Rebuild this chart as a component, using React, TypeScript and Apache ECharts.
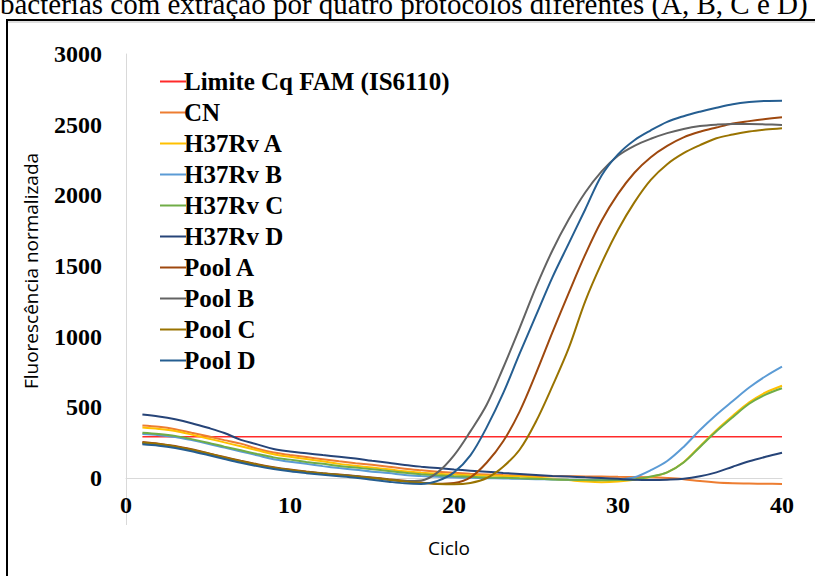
import React, { useEffect, useRef } from "react";
import * as echarts from "echarts";

const cycles = [1, 2, 3, 4, 5, 6, 7, 8, 9, 10, 11, 12, 13, 14, 15, 16, 17, 18, 19, 20, 21, 22, 23, 24, 25, 26, 27, 28, 29, 30, 31, 32, 33, 34, 35, 36, 37, 38, 39, 40];

const limiteCycles = [1, 40];
const limiteCq = [292, 292];

const cn = [372, 362, 345, 320, 295, 268, 243, 207, 180, 163, 148, 133, 118, 105, 93, 80, 66, 55, 45, 37, 30, 25, 21, 18, 15, 13, 12, 11, 10, 8, 7, 5, 0, -8, -22, -32, -37, -39, -41, -42];
const h37A = [357, 347, 332, 307, 280, 252, 224, 196, 168, 150, 134, 118, 100, 86, 74, 62, 48, 38, 30, 24, 19, 16, 14, 10, 4, -5, -15, -25, -30, -25, -12, 8, 40, 112, 225, 338, 440, 535, 605, 653];
const h37B = [311, 303, 290, 268, 243, 215, 188, 160, 132, 115, 100, 84, 70, 58, 45, 35, 22, 14, 8, 4, 1, -1, -3, -6, -8, -10, -12, -14, -15, -12, 5, 55, 120, 220, 340, 448, 545, 640, 720, 788];
const h37C = [321, 312, 298, 275, 250, 222, 196, 170, 146, 130, 114, 100, 85, 74, 62, 50, 37, 27, 19, 13, 8, 4, 1, -2, -5, -10, -13, -15, -16, -15, -10, 10, 40, 110, 220, 330, 430, 525, 590, 635];
const h37D = [449, 435, 415, 388, 355, 318, 270, 238, 205, 188, 175, 162, 151, 138, 122, 108, 92, 80, 70, 60, 52, 44, 36, 29, 22, 15, 10, 5, 0, -6, -12, -14, -12, -6, 12, 40, 80, 118, 150, 179];
const poolA = [255, 243, 226, 203, 176, 148, 122, 98, 77, 60, 46, 34, 24, 14, 4, -8, -20, -32, -40, -35, 5, 110, 260, 470, 740, 1030, 1310, 1580, 1820, 2010, 2160, 2270, 2350, 2410, 2450, 2480, 2508, 2525, 2540, 2553];
const poolB = [245, 235, 220, 196, 170, 142, 115, 90, 70, 54, 42, 32, 22, 12, 0, -12, -22, -18, 40, 160, 330, 520, 780, 1060, 1350, 1610, 1830, 2020, 2170, 2280, 2350, 2400, 2440, 2470, 2490, 2500, 2505, 2505, 2502, 2498];
const poolC = [250, 240, 222, 200, 173, 145, 118, 94, 73, 56, 43, 31, 21, 11, 0, -12, -24, -34, -42, -45, -35, 0, 80, 200, 400, 650, 920, 1250, 1520, 1755, 1950, 2109, 2220, 2298, 2355, 2404, 2430, 2451, 2465, 2475];
const poolD = [238, 228, 212, 190, 163, 135, 108, 84, 64, 47, 34, 23, 13, 2, -12, -26, -38, -42, -20, 40, 160, 360, 600, 880, 1150, 1420, 1660, 1900, 2140, 2290, 2390, 2460, 2520, 2560, 2592, 2620, 2645, 2660, 2668, 2670];

const yMin = 0;
const yMax = 3000;
const yStep = 500;
const xMin = 0;
const xMax = 40;
const xStep = 10;

const seriesNames = ["Limite Cq FAM (IS6110)", "CN", "H37Rv A", "H37Rv B", "H37Rv C", "H37Rv D", "Pool A", "Pool B", "Pool C", "Pool D"];
const seriesColors = ["#FF2A2A", "#ED7D31", "#FFC000", "#5B9BD5", "#70AD47", "#264478", "#9E480E", "#636363", "#997300", "#255E91"];

const titleText = "bactérias com extração por quatro protocolos diferentes (A, B, C e D)";
const yTitle = "Fluorescência normalizada";
const xTitle = "Ciclo";

export default function App() {
  const ref = useRef<HTMLDivElement>(null);
  useEffect(() => {
    const chart = echarts.init(ref.current as HTMLDivElement, null, { renderer: "svg" });
    const serif = '"Liberation Serif", "Times New Roman", serif';
    const curveData = [cn, h37A, h37B, h37C, h37D, poolA, poolB, poolC, poolD];
    const mk = (name: string, color: string, data: number[][], width: number, smooth: number | boolean) => ({
      type: "line",
      name,
      data,
      smooth,
      symbol: "none",
      showSymbol: false,
      clip: false,
      lineStyle: { color, width },
      itemStyle: { color },
      emphasis: { disabled: true },
      silent: true,
    });
    const series: any[] = [
      mk(seriesNames[0], seriesColors[0], limiteCycles.map((c, i) => [c, limiteCq[i]]), 1.3, false),
      ...curveData.map((vals, k) =>
        mk(seriesNames[k + 1], seriesColors[k + 1], cycles.map((c, i) => [c, vals[i]]), 2, 0.35)
      ),
    ];
    const axisFont = {
      color: "#000",
      fontFamily: serif,
      fontWeight: "bold" as const,
      fontSize: 24,
      formatter: (v: number) => String(v),
    };
    chart.setOption({
      animation: false,
      backgroundColor: "#ffffff",
      grid: { left: 126, right: 33, top: 54, bottom: 98, containLabel: false },
      xAxis: {
        type: "value",
        min: xMin,
        max: xMax,
        interval: xStep,
        axisLine: { show: true, lineStyle: { color: "#d9d9d9", width: 1 } },
        axisTick: { show: false },
        splitLine: { show: false },
        axisLabel: { ...axisFont, margin: 15 },
      },
      yAxis: {
        type: "value",
        min: yMin,
        max: yMax,
        interval: yStep,
        axisLine: { show: true, lineStyle: { color: "#d9d9d9", width: 1 } },
        axisTick: { show: false },
        splitLine: { show: false },
        axisLabel: { ...axisFont, margin: 24 },
      },
      legend: {
        orient: "vertical",
        left: 155,
        top: 64,
        icon: "rect",
        itemWidth: 26,
        itemHeight: 2,
        itemGap: 6,
        data: seriesNames,
        textStyle: {
          color: "#000",
          fontFamily: serif,
          fontWeight: "bold",
          fontSize: 25,
          lineHeight: 25,
          padding: [0, 0, 0, -7],
        },
        selectedMode: false,
      },
      graphic: [
        {
          type: "text",
          x: 0,
          y: 18,
          silent: true,
          style: {
            text: titleText,
            font: '29px "Liberation Serif", "Times New Roman", serif',
            fill: "#000",
            align: "left",
            verticalAlign: "bottom",
            textAlign: "left",
            textVerticalAlign: "bottom",
          },
        },
        {
          type: "polyline",
          silent: true,
          shape: { points: [[7, 600], [7, 20], [820, 20]] },
          style: { stroke: "#000", lineWidth: 2, fill: "none" },
        },
        {
          type: "line",
          silent: true,
          shape: { x1: 8, y1: 22, x2: 820, y2: 22 },
          style: { stroke: "#bdbdbd", lineWidth: 1 },
        },
        {
          type: "line",
          silent: true,
          shape: { x1: 126.5, y1: 478, x2: 126.5, y2: 525 },
          style: { stroke: "#d9d9d9", lineWidth: 1 },
        },
        {
          type: "text",
          x: 31,
          y: 271,
          rotation: Math.PI / 2,
          silent: true,
          style: {
            text: yTitle,
            font: '19px "Open Sans", "Noto Sans", sans-serif',
            fill: "#000",
            align: "center",
            verticalAlign: "middle",
            textAlign: "center",
            textVerticalAlign: "middle",
          },
        },
        {
          type: "text",
          x: 449,
          y: 548,
          silent: true,
          style: {
            text: xTitle,
            font: '19px "Open Sans", "Noto Sans", sans-serif',
            fill: "#000",
            align: "center",
            verticalAlign: "middle",
            textAlign: "center",
            textVerticalAlign: "middle",
          },
        },
      ],
      series,
    });
    return () => chart.dispose();
  }, []);
  return <div ref={ref} style={{ position: "fixed", left: 0, top: 0, width: 815, height: 576 }} />;
}
